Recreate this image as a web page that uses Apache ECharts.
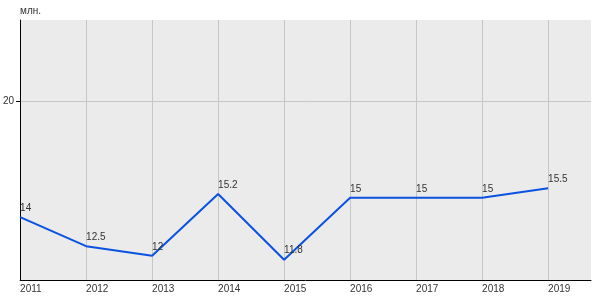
<!DOCTYPE html>
<html><head><meta charset="utf-8">
<script src="https://cdn.jsdelivr.net/npm/echarts@6/dist/echarts.min.js"></script>
<style>html,body{margin:0;padding:0;background:#fff}#c{width:600px;height:300px}</style>
</head><body><div id="c"></div>
<script>
const years = [2011, 2012, 2013, 2014, 2015, 2016, 2017, 2018, 2019];
const values = [14, 12.5, 12, 15.2, 11.8, 15, 15, 15, 15.5];
const yTicks = [20];
const unit = 'млн.';

const font = '"Liberation Sans Narrow", "Arial Narrow", Arial, sans-serif';
const txt = '#333';
const chart = echarts.init(document.getElementById('c'), null, {renderer: 'canvas'});
chart.setOption({
  animation: false,
  backgroundColor: '#ffffff',
  grid: {left: 20, top: 20, right: 9, bottom: 20, show: true, backgroundColor: '#ebebeb', borderWidth: 0},
  xAxis: {
    type: 'value', min: 2011, max: 2019.65,
    axisLine: {show: true, onZero: false, lineStyle: {color: '#000', width: 1}},
    axisTick: {show: false, customValues: years},
    axisLabel: {customValues: years, formatter: v => String(v), align: 'left', margin: 4,
      color: txt, fontSize: 10, fontFamily: font},
    splitLine: {show: true, lineStyle: {color: '#c6c6c6', width: 1}}
  },
  yAxis: {
    type: 'value', min: 10.75, max: 24.2,
    name: unit, nameLocation: 'end', nameGap: 4,
    nameTextStyle: {align: 'left', color: txt, fontSize: 10, fontFamily: font},
    axisLine: {show: true, onZero: false, lineStyle: {color: '#000', width: 1}},
    axisTick: {show: true, customValues: yTicks, length: 4, lineStyle: {color: '#000'}},
    axisLabel: {customValues: yTicks, margin: 6, color: txt, fontSize: 10, fontFamily: font},
    splitLine: {show: true, lineStyle: {color: '#c6c6c6', width: 1}}
  },
  series: [{
    type: 'line',
    data: years.map((y, i) => [y, values[i]]),
    showSymbol: true, symbol: 'circle', symbolSize: 0.01,
    itemStyle: {color: '#0a52e0', opacity: 0},
    lineStyle: {color: '#0a52e0', width: 2, opacity: 1},
    labelLayout: {hideOverlap: false},
    label: {show: true, position: 'top', align: 'left', distance: 4, opacity: 1,
      color: txt, fontSize: 10, fontFamily: font,
      formatter: p => String(p.value[1])}
  }]
});
</script></body></html>
